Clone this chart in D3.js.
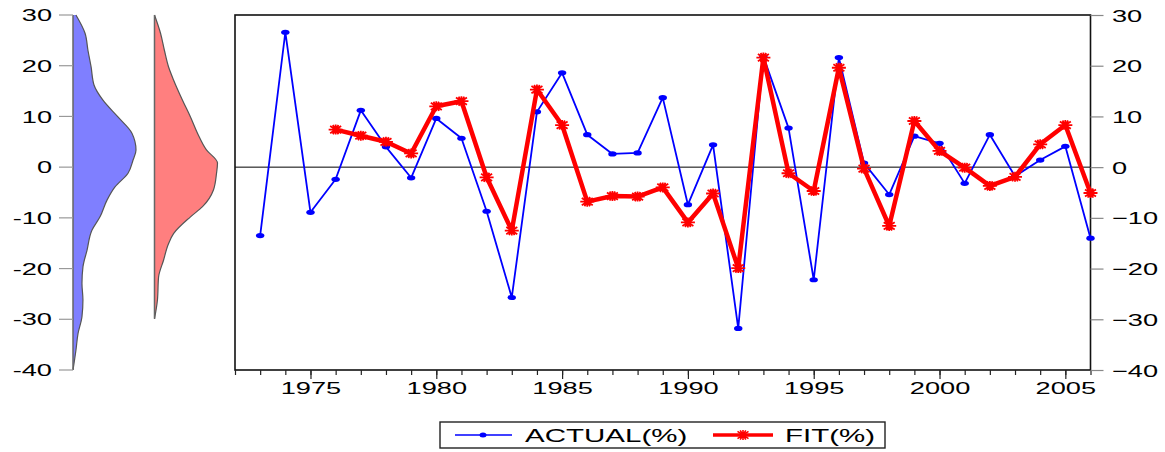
<!DOCTYPE html>
<html><head><meta charset="utf-8">
<script src="https://cdn.jsdelivr.net/npm/d3@7/dist/d3.min.js"></script>
<style>body{margin:0;background:#fff}svg{display:block}text{font-family:"Liberation Sans",Arial,sans-serif;fill:#000}</style>
</head><body>
<script>
const years = [1973,1974,1975,1976,1977,1978,1979,1980,1981,1982,1983,1984,1985,1986,1987,1988,1989,1990,1991,1992,1993,1994,1995,1996,1997,1998,1999,2000,2001,2002,2003,2004,2005,2006];
const actual = [-13.5,26.6,-8.9,-2.4,11.2,4.0,-2.1,9.6,5.7,-8.7,-25.7,10.9,18.6,6.4,2.6,2.8,13.7,-7.4,4.4,-31.8,21.8,7.7,-22.2,21.6,0.8,-5.4,6.1,4.7,-3.2,6.4,-1.8,1.4,4.1,-14.0];
const fitYears = [1976,1977,1978,1979,1980,1981,1982,1983,1984,1985,1986,1987,1988,1989,1990,1991,1992,1993,1994,1995,1996,1997,1998,1999,2000,2001,2002,2003,2004,2005,2006];
const fit = [7.4,6.2,5.0,2.7,12.0,13.0,-2.0,-12.5,15.3,8.3,-6.8,-5.7,-5.8,-4.0,-10.9,-5.2,-19.9,21.6,-1.2,-4.7,19.6,-0.3,-11.6,9.1,3.2,-0.1,-3.7,-1.9,4.5,8.3,-5.1];
const yTicks = [30,20,10,0,-10,-20,-30,-40];
const xMajorTicks = [1975,1980,1985,1990,1995,2000,2005];
const blueLevels = [30,26.4,23,19.8,16.2,13.2,9.9,6.7,3.4,1.4,-1.2,-3.9,-6.5,-9.8,-12.4,-16.4,-19.7,-22.9,-26.2,-29.5,-32.8,-36.1,-40];
const blueDensity = [0.21,0.86,1.07,1.29,1.5,2.14,3.21,4.21,4.5,4.29,3.93,3.0,2.43,1.93,1.36,1.0,0.71,0.64,0.71,0.64,0.36,0.21,0];
const redLevels = [30,26.4,23,19.8,17.2,13.2,9.9,6.7,3.4,0.8,-1.2,-4.5,-7.8,-9.8,-13.1,-15.1,-18.4,-21.7,-26.2,-29.9];
const redDensity = [0,0.43,0.71,1.0,1.36,2.0,2.57,3.07,3.71,4.5,4.43,4.21,3.43,2.57,1.36,1.0,0.64,0.29,0.21,0];
const legendLabels = ["ACTUAL(%)","FIT(%)"];

const W=1165,H=452;
const svg=d3.select("body").append("svg").attr("width",W).attr("height",H);
svg.append("rect").attr("width",W).attr("height",H).attr("fill","#fff");

const plot={l:235,r:1090.5,t:15,b:370};
const x=d3.scaleLinear().domain([1972,2006]).range([plot.l,plot.r]);
const y=d3.scaleLinear().domain([-40,30]).range([plot.b,plot.t]);
const FS=17;

// ---- left density panel ----
const dScale=d3.scaleLinear().domain([0,4.5]).range([0,63]);
function density(levels,vals,base,fill){
  const data=levels.map((v,i)=>({v,d:vals[i]}));
  svg.append("path").datum(data)
    .attr("d",d3.area().curve(d3.curveMonotoneY).y(d=>y(d.v)).x0(base).x1(d=>base+dScale(d.d)))
    .attr("fill",fill).attr("stroke","none");
  svg.append("path").datum(data)
    .attr("d",d3.line().curve(d3.curveMonotoneY).y(d=>y(d.v)).x(d=>base+dScale(d.d)))
    .attr("fill","none").attr("stroke","#555").attr("stroke-width",1.2);
  svg.append("line").attr("x1",base).attr("x2",base).attr("y1",y(levels[0])).attr("y2",y(levels[levels.length-1]))
    .attr("stroke","#666").attr("stroke-width",1.5);
}
density(blueLevels,blueDensity,73,"#7f7fff");
density(redLevels,redDensity,154.5,"#ff7f7f");

// left axis ticks + labels
const SY=1.6;
yTicks.forEach(t=>{
  svg.append("line").attr("x1",59).attr("x2",73).attr("y1",y(t)).attr("y2",y(t)).attr("stroke","#999").attr("stroke-width",1.2);
  svg.append("g").attr("transform",`translate(52,${y(t)}) scale(${SY},1)`)
    .append("text").attr("text-anchor","end").attr("dy","0.36em").attr("font-size",FS).text(t);
});

// ---- main plot ----
svg.append("line").attr("x1",plot.l).attr("x2",plot.r).attr("y1",y(0)).attr("y2",y(0)).attr("stroke","#000").attr("stroke-width",1);
svg.append("rect").attr("x",plot.l).attr("y",plot.t).attr("width",plot.r-plot.l).attr("height",plot.b-plot.t)
  .attr("fill","none").attr("stroke","#111").attr("stroke-width",1.6);

// bottom axis
const minor=d3.range(1972,2007);
const gx=svg.append("g").attr("transform",`translate(0,${plot.b})`);
gx.call(d3.axisBottom(x).tickValues(minor).tickSize(5).tickFormat("")).call(g=>g.select(".domain").remove());
gx.selectAll("line").attr("stroke","#222").attr("stroke-width",1.2);
const gxm=svg.append("g").attr("transform",`translate(0,${plot.b})`);
gxm.call(d3.axisBottom(x).tickValues(xMajorTicks).tickSize(9).tickFormat(d3.format("d"))).call(g=>g.select(".domain").remove());
gxm.selectAll("line").attr("stroke","#222").attr("stroke-width",1.2);
gxm.selectAll("text").attr("font-size",FS).attr("y",24).attr("dy",0).attr("transform","scale(1.6,1)").attr("fill","#000")
  .style("font-family","'Liberation Sans',Arial,sans-serif");

// right axis
const gy=svg.append("g").attr("transform",`translate(${plot.r},0)`);
gy.call(d3.axisRight(y).tickValues(yTicks).tickSize(13).tickFormat(d3.format("d"))).call(g=>g.select(".domain").remove());
gy.selectAll("line").attr("stroke","#888").attr("stroke-width",1.2);
gy.selectAll("text").attr("font-size",FS).attr("x",21.5/SY).attr("dy","0.36em").attr("transform",`scale(${SY},1)`).attr("fill","#000")
  .style("font-family","'Liberation Sans',Arial,sans-serif");

// actual series
const aData=years.map((yr,i)=>({yr,v:actual[i]}));
const fData=fitYears.map((yr,i)=>({yr,v:fit[i]}));
const line=d3.line().x(d=>x(d.yr)).y(d=>y(d.v));
svg.append("path").datum(aData).attr("d",line).attr("fill","none").attr("stroke","#0000ff").attr("stroke-width",1.8).attr("stroke-linejoin","round");
svg.selectAll(".dot").data(aData).join("ellipse").attr("cx",d=>x(d.yr)).attr("cy",d=>y(d.v)).attr("rx",4.2).attr("ry",2.6).attr("fill","#0000ff");

// fit series
svg.append("path").datum(fData).attr("d",line).attr("fill","none").attr("stroke","#ff0000").attr("stroke-width",4.5).attr("stroke-linejoin","round");
const star="M-7,0L7,0M0,-5L0,5M-5.5,-3.6L5.5,3.6M-5.5,3.6L5.5,-3.6M-2.8,-4.6L2.8,4.6M-2.8,4.6L2.8,-4.6";
svg.selectAll(".star").data(fData).join("path").attr("transform",d=>`translate(${x(d.yr)},${y(d.v)})`)
  .attr("d",star).attr("stroke","#ff0000").attr("stroke-width",1.8).attr("fill","none");

// legend
const lg=svg.append("g");
lg.append("rect").attr("x",440).attr("y",422).attr("width",445).attr("height",26).attr("fill","#fff").attr("stroke","#222").attr("stroke-width",1.4);
lg.append("line").attr("x1",455).attr("x2",512).attr("y1",435).attr("y2",435).attr("stroke","#0000ff").attr("stroke-width",1.5);
lg.append("ellipse").attr("cx",483).attr("cy",435).attr("rx",3.5).attr("ry",2.5).attr("fill","#0000ff");
lg.append("g").attr("transform","translate(525,441.5) scale(1.64,1)").append("text").attr("font-size",18).text(legendLabels[0]);
lg.append("line").attr("x1",713).attr("x2",773).attr("y1",435).attr("y2",435).attr("stroke","#ff0000").attr("stroke-width",3.5);
lg.append("path").attr("transform","translate(743,435)").attr("d",star).attr("stroke","#ff0000").attr("stroke-width",1.6).attr("fill","none");
lg.append("g").attr("transform","translate(785,441.5) scale(1.64,1)").append("text").attr("font-size",18).text(legendLabels[1]);
</script>
</body></html>
